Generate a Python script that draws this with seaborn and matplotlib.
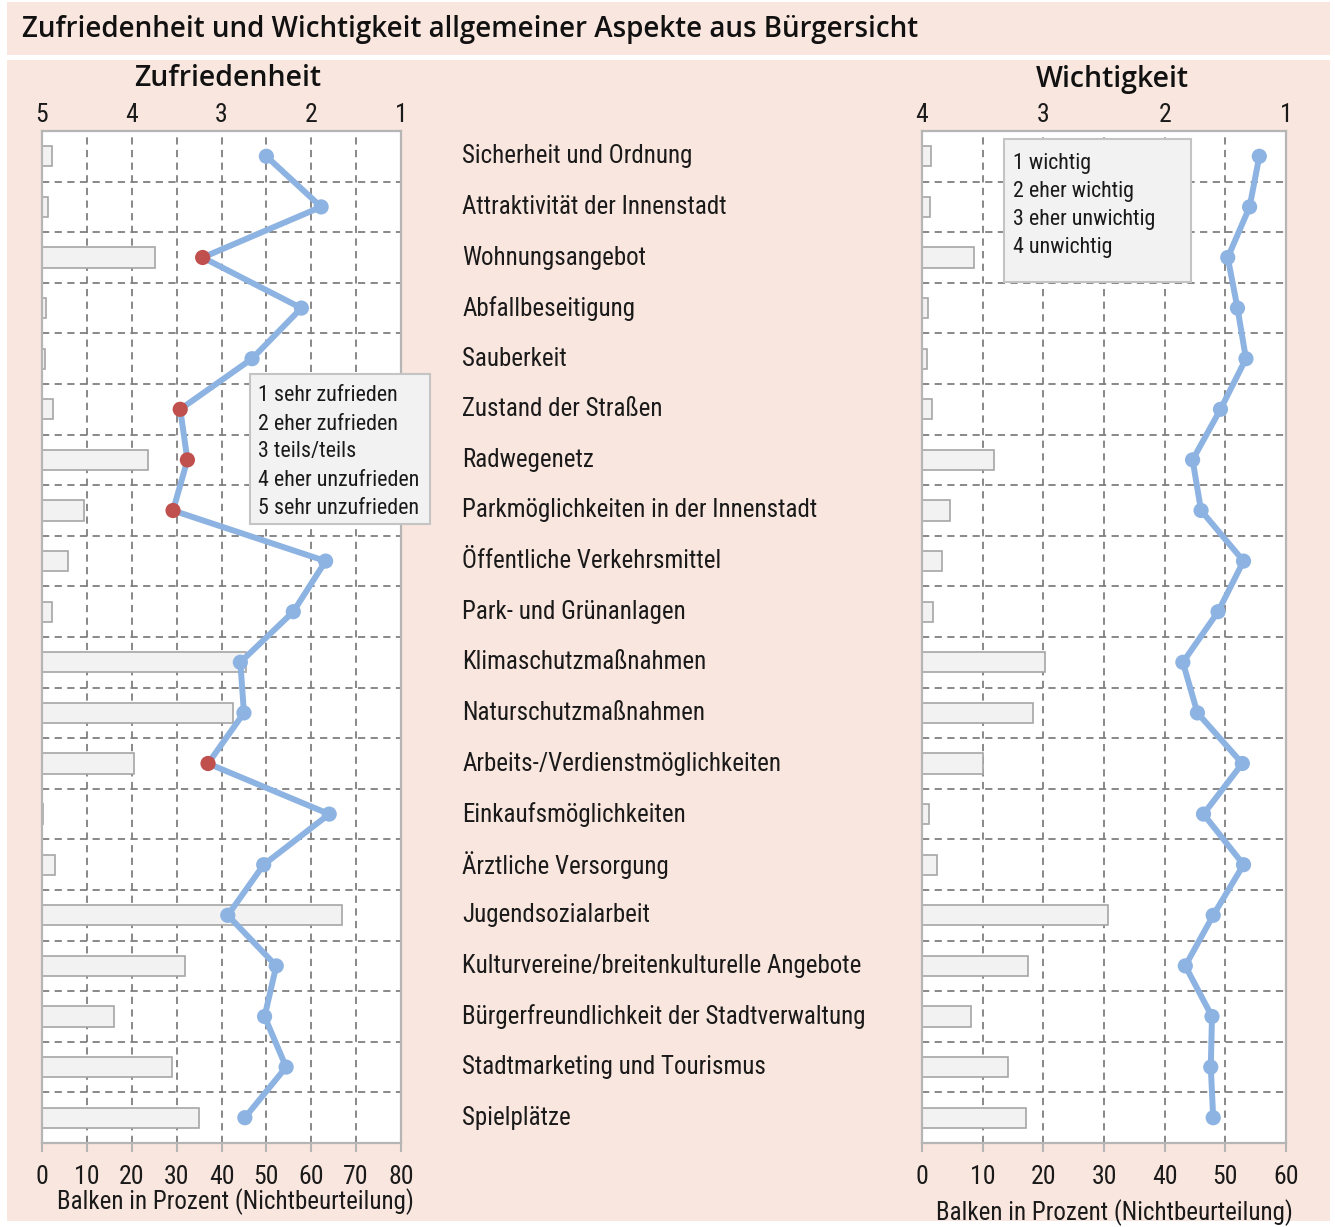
import numpy as np
import pandas as pd
import seaborn as sns
import matplotlib
matplotlib.use("Agg")
import matplotlib.pyplot as plt
from matplotlib import font_manager
from matplotlib.patches import Rectangle

# ---------------- data ----------------
categories = [
    "Sicherheit und Ordnung", "Attraktivität der Innenstadt", "Wohnungsangebot",
    "Abfallbeseitigung", "Sauberkeit", "Zustand der Straßen", "Radwegenetz",
    "Parkmöglichkeiten in der Innenstadt", "Öffentliche Verkehrsmittel",
    "Park- und Grünanlagen", "Klimaschutzmaßnahmen", "Naturschutzmaßnahmen",
    "Arbeits-/Verdienstmöglichkeiten", "Einkaufsmöglichkeiten", "Ärztliche Versorgung",
    "Jugendsozialarbeit", "Kulturvereine/breitenkulturelle Angebote",
    "Bürgerfreundlichkeit der Stadtverwaltung", "Stadtmarketing und Tourismus", "Spielplätze",
]
zuf_score = [2.50, 1.89, 3.21, 2.11, 2.66, 3.46, 3.38, 3.54, 1.84, 2.20,
             2.79, 2.75, 3.15, 1.80, 2.53, 2.93, 2.39, 2.52, 2.28, 2.74]
zuf_nichtbeurteilung = [2.2, 1.3, 25.2, 0.8, 0.7, 2.4, 23.7, 9.3, 5.9, 2.2,
                        45.4, 42.6, 20.4, 0.3, 3.0, 66.9, 31.9, 16.0, 29.0, 34.9]
wich_score = [1.22, 1.30, 1.48, 1.40, 1.33, 1.54, 1.77, 1.70, 1.35, 1.56,
              1.85, 1.73, 1.36, 1.68, 1.35, 1.60, 1.83, 1.61, 1.62, 1.60]
wich_nichtbeurteilung = [1.5, 1.4, 8.5, 1.0, 0.9, 1.65, 11.9, 4.6, 3.25, 1.8,
                         20.3, 18.3, 10.0, 1.2, 2.4, 30.7, 17.5, 8.1, 14.2, 17.2]
zuf_levels = ["1 sehr zufrieden", "2 eher zufrieden", "3 teils/teils",
              "4 eher unzufrieden", "5 sehr unzufrieden"]
wich_levels = ["1 wichtig", "2 eher wichtig", "3 eher unwichtig", "4 unwichtig"]
zuf_score_ticks = [5, 4, 3, 2, 1]
wich_score_ticks = [4, 3, 2, 1]
zuf_pct_ticks = [0, 10, 20, 30, 40, 50, 60, 70, 80]
wich_pct_ticks = [0, 10, 20, 30, 40, 50, 60]
title = "Zufriedenheit und Wichtigkeit allgemeiner Aspekte aus Bürgersicht"
xlabel = "Balken in Prozent (Nichtbeurteilung)"

# ---------------- style ----------------
W, H = 1335, 1227
sns.set_style("white")
names = {f.name for f in font_manager.fontManager.ttflist}
body_font = next(n for n in ["Liberation Sans Narrow", "Roboto Condensed",
                             "Open Sans Condensed", "Liberation Sans", "DejaVu Sans"] if n in names)
head_font = next(n for n in ["Open Sans", "Noto Sans", "Lato", "DejaVu Sans"] if n in names)
plt.rcParams["font.family"] = [body_font, "DejaVu Sans"]

PEACH = "#f9e6de"
BLUE = "#8db3e2"
RED = "#c0504d"
SPINE = "#b5b5b5"
GRID = "#7f7f7f"

fig = plt.figure(figsize=(W / 100, H / 100), dpi=100, facecolor="white")


def fx(x):
    return x / W


def fy(y):
    return 1 - y / H


# background bands
fig.add_artist(Rectangle((fx(7), fy(55)), (1330 - 7) / W, (55 - 2) / H,
                         transform=fig.transFigure, facecolor=PEACH, edgecolor="none", zorder=-10))
fig.add_artist(Rectangle((fx(7), fy(1221)), (1330 - 7) / W, (1221 - 60) / H,
                         transform=fig.transFigure, facecolor=PEACH, edgecolor="none", zorder=-10))

ax_top, ax_bot = 131, 1143
axL = fig.add_axes([fx(42), fy(ax_bot), (401 - 42) / W, (ax_bot - ax_top) / H])
axR = fig.add_axes([fx(922), fy(ax_bot), (1286 - 922) / W, (ax_bot - ax_top) / H])

pos = np.arange(len(categories))


def panel(ax, pct, score, pct_ticks, score_ticks, show_labels, label_x, labelpad):
    df = pd.DataFrame({"cat": categories, "pct": pct, "score": score, "pos": pos})
    df["status"] = np.where(df["score"] > 3, "neg", "pos")
    sns.barplot(data=df, x="pct", y="cat", order=categories, orient="h", ax=ax,
                color="#f2f2f2", saturation=1, edgecolor="#a6a6a6", linewidth=1.2,
                width=0.4, zorder=2)
    ax.set_xlim(pct_ticks[0], pct_ticks[-1])
    ax.set_ylim(len(categories) - 0.5, -0.5)
    ax.set_facecolor("white")
    ax.set_axisbelow(True)
    ax.set_xticks(pct_ticks)
    ax.set_yticks(pos + 0.5, minor=True)
    ax.grid(axis="x", which="major", linestyle=(0, (4, 3)), color=GRID, linewidth=1.3)
    ax.grid(axis="y", which="minor", linestyle=(0, (4, 3)), color=GRID, linewidth=1.3)
    ax.grid(axis="y", which="major", visible=False)
    ax.tick_params(axis="x", length=6.5, width=1.5, color=SPINE, labelsize=18.5, pad=9,
                   labelcolor="#1a1a1a")
    ax.tick_params(axis="y", which="both", length=0)
    for s in ax.spines.values():
        s.set_visible(True)
        s.set_color(SPINE)
        s.set_linewidth(1.6)
    ax.set_ylabel("")
    ax.set_xlabel(xlabel, fontsize=18, x=label_x, labelpad=labelpad, color="#1a1a1a")
    if show_labels:
        ax.yaxis.tick_right()
        ax.set_yticks(pos, categories)
        ax.tick_params(axis="y", which="both", length=0, pad=44, labelsize=18,
                       labelcolor="#1a1a1a")
        for lab in ax.get_yticklabels():
            lab.set_verticalalignment("center")
    else:
        ax.tick_params(axis="y", labelleft=False, labelright=False)

    ax2 = ax.twiny()
    sns.lineplot(data=df, x="score", y="pos", sort=False, estimator=None, ax=ax2,
                 color=BLUE, linewidth=4.3, zorder=3)
    sns.scatterplot(data=df, x="score", y="pos", hue="status",
                    palette={"pos": BLUE, "neg": RED}, s=120, linewidth=0,
                    legend=False, ax=ax2, zorder=4)
    ax2.set_xlim(score_ticks[0], score_ticks[-1])
    ax2.set_xticks(score_ticks)
    ax2.tick_params(axis="x", length=0, labelsize=18.5, pad=3, labelcolor="#1a1a1a")
    ax2.set_xlabel("")
    ax2.set_ylabel("")
    for s in ax2.spines.values():
        s.set_visible(False)
    ax.set_ylim(len(categories) - 0.5, -0.5)
    return ax2


panel(axL, zuf_nichtbeurteilung, zuf_score, zuf_pct_ticks, zuf_score_ticks, True, 0.54, 0)
panel(axR, wich_nichtbeurteilung, wich_score, wich_pct_ticks, wich_score_ticks, False, 0.53, 8)

# titles
fig.text(fx(22), fy(29), title, fontsize=20, family=head_font, weight="semibold",
         va="center", ha="left", color="#111111")
fig.text(fx(228), fy(79), "Zufriedenheit", fontsize=20.5, family=head_font, weight="semibold",
         va="center", ha="center", color="#111111")
fig.text(fx(1112), fy(79), "Wichtigkeit", fontsize=20.5, family=head_font, weight="semibold",
         va="center", ha="center", color="#111111")


# legend boxes
def legend_box(x0, y0, x1, y1, tx, ty0, lines):
    fig.add_artist(Rectangle((fx(x0), fy(y1)), (x1 - x0) / W, (y1 - y0) / H,
                             transform=fig.transFigure, facecolor="#f2f2f2",
                             edgecolor="#c4c4c4", linewidth=1.5, zorder=20))
    for i, t in enumerate(lines):
        fig.text(fx(tx), fy(ty0 + 28 * i), t, fontsize=15.8, va="center", ha="left",
                 color="#1a1a1a", zorder=21)


legend_box(250, 374, 430, 524, 258, 396, zuf_levels)
legend_box(1004, 139, 1191, 282, 1013, 163, wich_levels)

fig.savefig("out.png", dpi=100, facecolor="white")
